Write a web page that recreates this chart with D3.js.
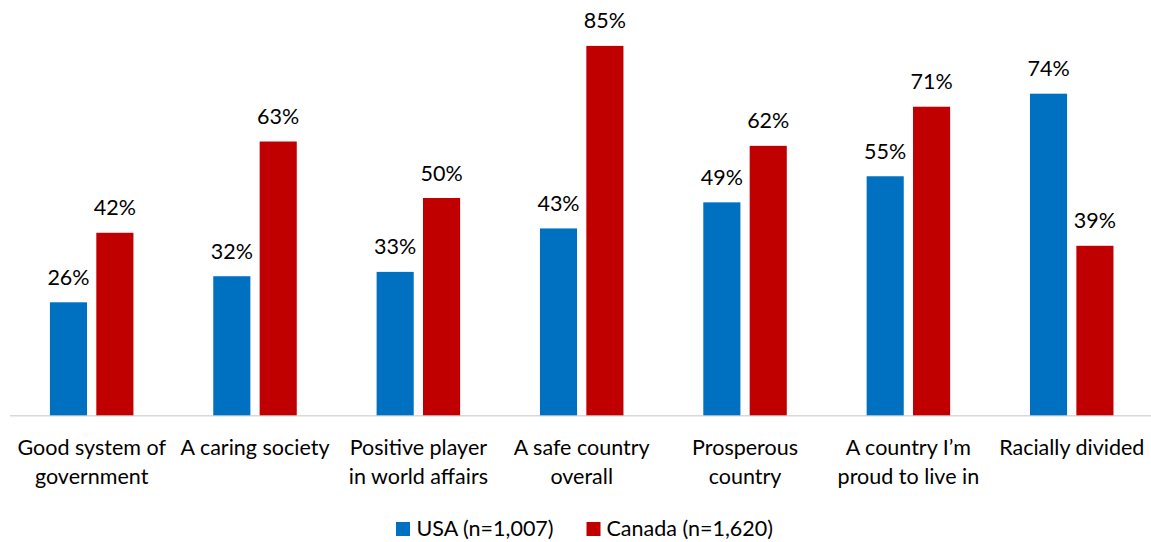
<!DOCTYPE html>
<html>
<head>
<meta charset="utf-8">
<script src="https://cdn.jsdelivr.net/npm/d3@7/dist/d3.min.js"></script>
<style>
  html, body { margin: 0; padding: 0; background: #fff; }
  svg text { font-family: Lato, "Open Sans", sans-serif; fill: #000; }
</style>
</head>
<body>
<svg id="chart" width="1151" height="542"></svg>
<script>
// Perception categories (line breaks mark where each axis label wraps)
const categories = [
  "Good system of\ngovernment",
  "A caring society",
  "Positive player\nin world affairs",
  "A safe country\noverall",
  "Prosperous\ncountry",
  "A country I\u2019m\nproud to live in",
  "Racially divided"
];
const seriesNames = ["USA (n=1,007)", "Canada (n=1,620)"];
const usaValues = [26, 32, 33, 43, 49, 55, 74];
const canadaValues = [42, 63, 50, 85, 62, 71, 39];
const seriesColors = ["#0070C0", "#C00000"];

const rows = categories.map((c, i) => ({ cat: c, vals: [usaValues[i], canadaValues[i]] }));

const svg = d3.select("#chart");
const plot = { left: 10, right: 1153.4, baseline: 415.3 };
const fontSize = 21.5;

const x0 = d3.scaleBand()
  .domain(categories)
  .range([plot.left, plot.right])
  .paddingInner(0.4888)
  .paddingOuter(0.2444);

const x1 = d3.scaleBand()
  .domain([0, 1])
  .range([0, x0.bandwidth()])
  .paddingInner(0.2);

const y = d3.scaleLinear().domain([0, 100]).range([plot.baseline, plot.baseline - 434.6]);

// Category axis line
svg.append("line")
  .attr("x1", plot.left).attr("x2", 1151)
  .attr("y1", plot.baseline + 0.5).attr("y2", plot.baseline + 0.5)
  .attr("stroke", "#d9d9d9").attr("stroke-width", 1.5);

const groups = svg.selectAll("g.grp")
  .data(rows)
  .join("g")
  .attr("class", "grp")
  .attr("transform", d => `translate(${x0(d.cat)},0)`);

groups.selectAll("rect")
  .data(d => d.vals.map((v, s) => ({ v, s })))
  .join("rect")
  .attr("x", d => x1(d.s))
  .attr("width", x1.bandwidth())
  .attr("y", d => y(d.v))
  .attr("height", d => y(0) - y(d.v))
  .attr("fill", d => seriesColors[d.s]);

groups.selectAll("text.val")
  .data(d => d.vals.map((v, s) => ({ v, s })))
  .join("text")
  .attr("class", "val")
  .attr("x", d => x1(d.s) + x1.bandwidth() / 2)
  .attr("y", d => y(d.v) - 17.5)
  .attr("text-anchor", "middle")
  .attr("font-size", fontSize)
  .text(d => d.v + "%");

// Wrapped category labels
groups.append("text")
  .attr("class", "cat")
  .attr("text-anchor", "middle")
  .attr("font-size", fontSize)
  .selectAll("tspan")
  .data(d => d.cat.split("\n"))
  .join("tspan")
  .attr("x", x0.bandwidth() / 2)
  .attr("y", (d, i) => 455 + i * 28.5)
  .text(d => d);

// Legend
const legendItems = [
  { name: seriesNames[0], color: seriesColors[0], sx: 396, tx: 416.5 },
  { name: seriesNames[1], color: seriesColors[1], sx: 586.5, tx: 606.5 }
];
const lg = svg.selectAll("g.legend")
  .data(legendItems)
  .join("g")
  .attr("class", "legend");
lg.append("rect")
  .attr("x", d => d.sx).attr("y", 522)
  .attr("width", 14).attr("height", 14)
  .attr("fill", d => d.color);
lg.append("text")
  .attr("x", d => d.tx).attr("y", 535.5)
  .attr("font-size", fontSize)
  .text(d => d.name);
</script>
</body>
</html>
